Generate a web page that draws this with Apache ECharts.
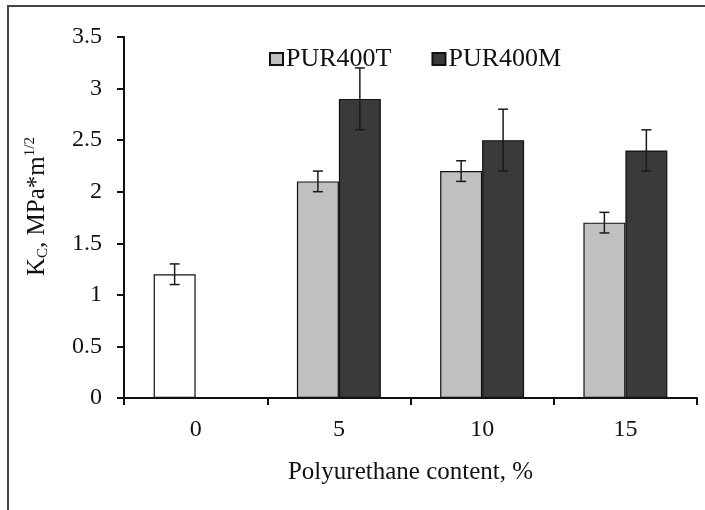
<!DOCTYPE html>
<html>
<head>
<meta charset="utf-8">
<script src="https://cdn.jsdelivr.net/npm/echarts@6/dist/echarts.min.js"></script>
<style>
html,body{margin:0;padding:0;background:#fff;}
#chart{width:705px;height:510px;}
</style>
</head>
<body>
<div id="chart"></div>
<script>
const categories = ['0', '5', '10', '15'];
const seriesNames = ['PUR400T', 'PUR400M'];
const valuesT = [1.2, 2.1, 2.2, 1.7];
const valuesM = [null, 2.9, 2.5, 2.4];
const errT = [0.1, 0.1, 0.1, 0.1];
const errM = [null, 0.3, 0.3, 0.2];
const yTicks = { min: 0, max: 3.5, interval: 0.5 };

const BAR_FRAC = 0.293;
const FONT = '"Liberation Serif", "Times New Roman", serif';

function errData(vals, errs) {
  const out = [];
  vals.forEach((v, i) => {
    if (v != null && errs[i] != null) out.push([i, v - errs[i], v + errs[i]]);
  });
  return out;
}

function makeErr(side) {
  return function (params, api) {
    const x = api.value(0);
    const lo = api.coord([x, api.value(1)]);
    const hi = api.coord([x, api.value(2)]);
    const bw = api.size([1, 0])[0];
    const cx = lo[0] + side * bw * BAR_FRAC / 2;
    const cap = 5;
    const st = { stroke: '#1a1a1a', lineWidth: 1.5 };
    return {
      type: 'group',
      children: [
        { type: 'line', shape: { x1: cx, y1: lo[1], x2: cx, y2: hi[1] }, style: st },
        { type: 'line', shape: { x1: cx - cap, y1: lo[1], x2: cx + cap, y2: lo[1] }, style: st },
        { type: 'line', shape: { x1: cx - cap, y1: hi[1], x2: cx + cap, y2: hi[1] }, style: st }
      ]
    };
  };
}

const chart = echarts.init(document.getElementById('chart'));
chart.setOption({
  animation: false,
  backgroundColor: '#fff',
  textStyle: { fontFamily: FONT, color: '#111' },
  graphic: [{
    type: 'rect', z: -10, silent: true,
    shape: { x: 8, y: 6, width: 760, height: 560 },
    style: { fill: 'none', stroke: '#444', lineWidth: 2 }
  }],
  grid: { left: 124, right: 8, top: 37, bottom: 112 },
  legend: {
    data: seriesNames,
    left: 264, top: 41,
    icon: 'rect', itemWidth: 13, itemHeight: 12, itemGap: 40,
    textStyle: { fontFamily: FONT, fontSize: 26, color: '#111', padding: [2, 0, 0, -2] }
  },
  xAxis: {
    type: 'category',
    data: categories,
    name: 'Polyurethane content, %',
    nameLocation: 'middle',
    nameGap: 62,
    nameTextStyle: { fontFamily: FONT, fontSize: 25, color: '#111' },
    axisLine: { lineStyle: { color: '#111', width: 2 } },
    axisTick: { show: true, length: 7, lineStyle: { color: '#111', width: 2 } },
    axisLabel: { fontFamily: FONT, fontSize: 24, color: '#111', margin: 20 }
  },
  yAxis: {
    type: 'value',
    min: yTicks.min, max: yTicks.max, interval: yTicks.interval,
    name: '{k|K}{s|C}{k|, MPa*m}{p|1/2}',
    nameLocation: 'middle',
    nameRotate: 90,
    nameGap: 73,
    nameTextStyle: {
      fontFamily: FONT, fontSize: 25, color: '#111',
      padding: [0, 0, 0, 22],
      rich: {
        k: { fontFamily: FONT, fontSize: 25, color: '#111' },
        s: { fontFamily: FONT, fontSize: 15, color: '#111', padding: [13, 0, 0, 0] },
        p: { fontFamily: FONT, fontSize: 15, color: '#111', padding: [0, 0, 13, 0] }
      }
    },
    splitLine: { show: false },
    axisLine: { show: true, lineStyle: { color: '#111', width: 2 } },
    axisTick: { show: true, length: 7, lineStyle: { color: '#111', width: 2 } },
    axisLabel: { fontFamily: FONT, fontSize: 24, color: '#111', margin: 22 }
  },
  series: [
    {
      name: seriesNames[0], type: 'bar',
      barWidth: (BAR_FRAC * 100) + '%', barGap: '0%',
      data: valuesT.map((v, i) => i === 0 ? { value: v, itemStyle: { color: '#ffffff' } } : v),
      itemStyle: { color: '#c0c0c0', borderColor: '#111', borderWidth: 1.2 }
    },
    {
      name: seriesNames[1], type: 'bar',
      barWidth: (BAR_FRAC * 100) + '%', barGap: '0%',
      data: valuesM,
      itemStyle: { color: '#3a3a3a', borderColor: '#111', borderWidth: 1.2 }
    },
    { type: 'custom', renderItem: makeErr(-1), data: errData(valuesT, errT), z: 5, encode: { x: 0, y: [1, 2] } },
    { type: 'custom', renderItem: makeErr(1), data: errData(valuesM, errM), z: 5, encode: { x: 0, y: [1, 2] } }
  ]
});
</script>
</body>
</html>
